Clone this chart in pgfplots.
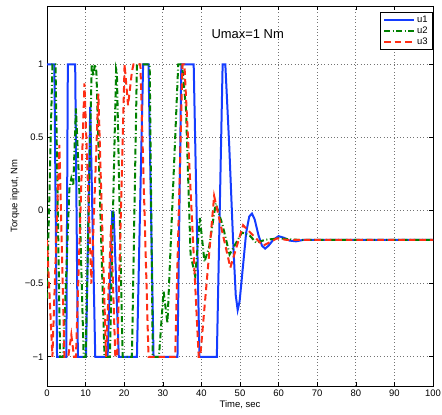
\documentclass[border=0pt]{standalone}
\usepackage{fontspec}
\setmainfont{Liberation Sans}
\usepackage{pgfplots}
\pgfplotsset{compat=1.18}
\definecolor{ublue}{RGB}{20,60,255}
\definecolor{ugreen}{RGB}{0,128,0}
\definecolor{ured}{RGB}{255,45,20}

\begin{document}
\begin{tikzpicture}
\path[use as bounding box] (-47bp,-29bp) rectangle (395bp,386bp);
\begin{axis}[
  at={(0,0)}, anchor=south west,
  scale only axis, width=386bp, height=380bp,
  xmin=0, xmax=100, ymin=-1.2, ymax=1.4,
  xtick={0,10,...,100},
  ytick={-1,-0.5,0,0.5,1},
  yticklabels={−1,−0.5,0,0.5,1},
  /pgf/number format/assume math mode=true,
  ticklabel style={font=\fontsize{9.5}{11}\selectfont},
  tick align=inside, xtick pos=both, ytick pos=both,
  major tick length=4bp,
  tick style={black, line width=0.6bp},
  axis line style={line width=0.8bp},
  grid=major,
  major grid style={black!55, line width=0.7bp, dash pattern=on 0.7bp off 2.6bp},
  xlabel={Time, sec}, ylabel={Torque input, Nm},
  label style={font=\fontsize{9.5}{11}\selectfont},
  xlabel style={at={(axis description cs:0.5,-0.05)}, anchor=center},
  ylabel style={at={(axis description cs:-0.083,0.5)}, anchor=center},
  legend style={at={(1,1)}, anchor=north east, xshift=-0.5bp, yshift=-5.7bp,
    font=\fontsize{9.5}{10.5}\selectfont, draw=black, line width=0.8bp,
    inner xsep=2.5bp, inner ysep=1.5bp, row sep=-1bp, cells={anchor=west}},
  legend image code/.code={\draw[#1] (0bp,0bp) -- (30bp,0bp);},
]
% u1: control torque of joint 1
\addplot[ublue, line width=2bp] coordinates {
 (0,1) (1.9,1) (2.6,-1) (5.0,-1) (5.4,1) (7.3,1) (8.0,-1) (10.1,-1)
 (11.2,0.71) (12.5,-1) (15.7,-1) (16.9,0) (17.1,-0.04) (17.3,-0.03)
 (18.6,-1) (23.3,-1) (24.9,1) (26.3,1) (27.6,-1) (33.8,-1) (34.8,1)
 (38.0,1) (39.5,-1) (44.0,-1) (45.5,1) (46.2,1) (47.2,0.45) (48.2,-0.2)
 (48.9,-0.58) (49.4,-0.68) (49.9,-0.62) (50.7,-0.4) (51.6,-0.15)
 (52.4,-0.04) (53.1,-0.02) (53.8,-0.06) (54.8,-0.17) (55.7,-0.24)
 (56.5,-0.26) (57.4,-0.24) (58.6,-0.2) (60.0,-0.175) (61.3,-0.185)
 (62.8,-0.205) (64.5,-0.21) (66.5,-0.2) (70,-0.2) (100,-0.2)
};
\addlegendentry{u1}
% u2: control torque of joint 2
\addplot[ugreen, line width=2bp, dash pattern=on 6bp off 2.5bp on 1bp off 2.5bp] coordinates {
 (0,-0.6) (1.4,1) (2.2,1) (3.4,-1) (4.2,-1) (5.8,0.15) (6.3,0.22)
 (6.8,0.17) (7.5,0.7) (8.3,0.2) (9.5,-1) (10.0,-1) (11.6,1) (12.0,0.92)
 (12.4,1) (12.8,0.95) (14.9,-1) (16.3,-1) (17.9,0.97) (18.1,0.95)
 (19.6,-1) (22.0,-1) (23.3,1) (26.6,1) (27.4,-1) (29.0,-1) (30.2,-0.55)
 (31.2,-0.77) (34.0,1) (35.0,1) (36.0,0.7) (37.2,-0.3) (38.4,-0.45)
 (39.6,-0.05) (40.8,-0.35) (42.0,-0.25) (43.7,0.05) (45.5,-0.1)
 (47.3,-0.3) (49.0,-0.22) (50.5,-0.15) (52.5,-0.17) (54.2,-0.22)
 (56.5,-0.2) (60,-0.19) (65,-0.2) (100,-0.2)
};
\addlegendentry{u2}
% u3: control torque of joint 3
\addplot[ured, line width=2bp, dash pattern=on 6.5bp off 4bp] coordinates {
 (0,-0.2) (1.4,-1) (3.2,0.45) (4.5,-1) (5.5,-1) (6.3,-0.85) (7.0,-1)
 (7.5,-1) (9.7,0.87) (11.5,-0.5) (13.3,0.8) (15.3,-1) (16.6,-0.1)
 (17.7,-1) (18.2,-1) (20.1,1) (21.0,0.72) (22.0,0.95) (22.4,1) (24.2,1)
 (26.3,-1) (33.2,-1) (35.1,1) (35.6,1) (39.3,-1) (39.7,-1) (43.3,0.1)
 (47.5,-0.39) (50.8,-0.1) (56.0,-0.24) (59.6,-0.19) (62,-0.2) (100,-0.2)
};
\addlegendentry{u3}
\node[font=\fontsize{13}{15}\selectfont] at (axis cs:52,1.21) {Umax=1 Nm};
\end{axis}
\end{tikzpicture}
\end{document}
